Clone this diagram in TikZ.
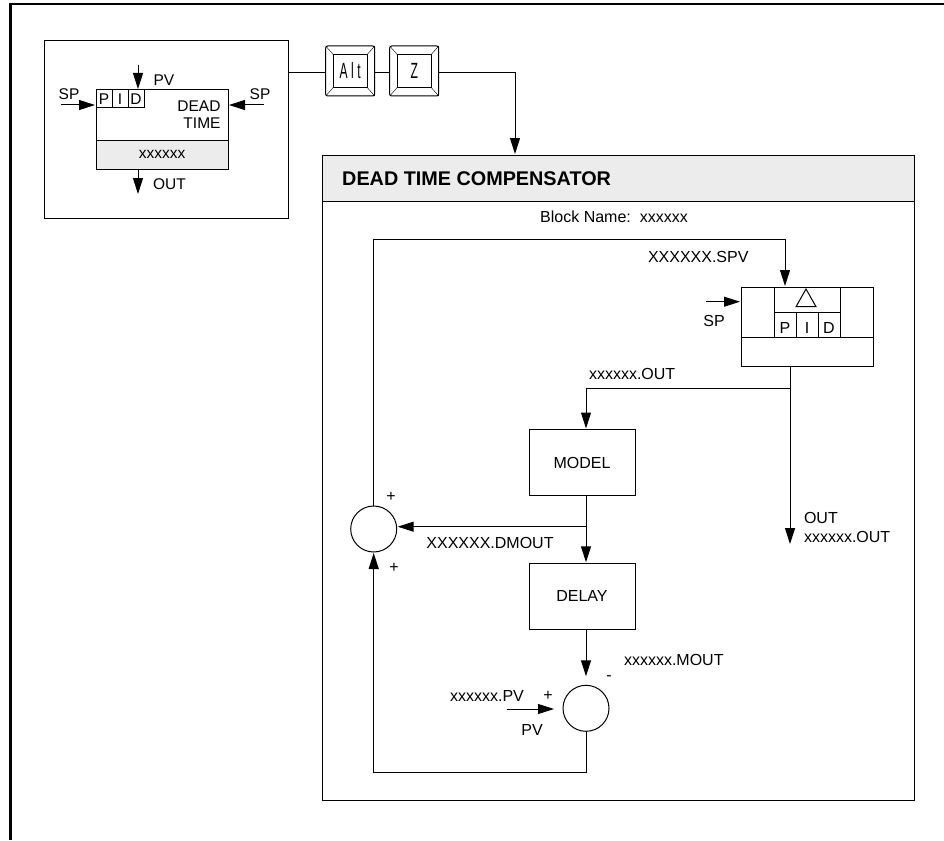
\documentclass[tikz,border=0pt]{standalone}
\usepackage{fontspec}
\setmainfont{Liberation Sans}
\newfontfamily\keyfont[FakeStretch=0.55,LetterSpace=16]{Liberation Sans}
\usetikzlibrary{arrows.meta,positioning}
\tikzset{
  block/.style={
    rectangle,
    draw=black,
    line width=1pt,
    outer sep=0pt,
    inner sep=0pt,
    align=center
  },
  cell/.style={
    block,
    minimum height=18pt
  },
  sumnode/.style={
    circle,
    draw=black,
    line width=1pt,
    outer sep=0pt,
    minimum size=46pt
  },
  keycap/.style={
    block,
    rounded corners=2pt,
    minimum width=49pt,
    minimum height=50pt
  },
  keyface/.style={
    block,
    minimum width=34pt,
    minimum height=33pt,
    font=\keyfont\fontsize{22}{22}\selectfont
  },
  txt/.style={
    inner sep=0pt,
    outer sep=0pt,
    align=left,
    font=\fontsize{16}{18}\selectfont
  },
  facetxt/.style={
    txt,
    font=\fontsize{15.5}{17}\selectfont
  },
  pidcell/.style={
    cell,
    txt,
    minimum width=22pt,
    minimum height=25pt,
    text height=17pt,
    text depth=0pt
  },
  arrow/.style={
    -{Triangle[length=16pt,width=10pt]},
    line width=1pt,
    shorten >=1pt
  },
  wire/.style={
    line width=1pt
  }
}
\begin{document}
\begin{tikzpicture}[x=1pt,y=-1pt]
\useasboundingbox (0,0) rectangle (944,840);
\draw[line width=2.5pt] (10.5,840) -- (10.5,4) -- (944,4);

% faceplate
\node[block, anchor=north west, minimum width=244pt, minimum height=177pt] (face) at (44,41) {};
\node[block, anchor=north west, minimum width=132pt, minimum height=50pt] (fpbody) at (96,90) {};
\node[block, minimum width=132pt, minimum height=29pt, fill=gray!15, below=0pt of fpbody, facetxt] (fpname) {xxxxxx};
\node[cell, anchor=north west, minimum width=16pt, facetxt] (fpp) at (96,90) {P};
\node[cell, minimum width=16pt, right=0pt of fpp, facetxt] (fpi) {I};
\node[cell, minimum width=16pt, right=0pt of fpi, facetxt] (fpd) {D};
\node[facetxt, align=right, anchor=east] (fpdead) at (220.5,114.5) {DEAD\\TIME};

\coordinate (fppvin) at (138,65);
\coordinate (fpspl) at (61,105);
\coordinate (fpspr) at (264,105);
\coordinate (fpout) at (138,195);
\node[facetxt, anchor=west] (fppv) at (153.5,80) {PV};
\node[facetxt] (fpspltxt) at (69,94) {SP};
\node[facetxt] (fpsprtxt) at (260,94) {SP};
\node[facetxt, anchor=west] (fpouttxt) at (153,184) {OUT};

\draw[arrow] (fppvin) -- (fppvin |- fpd.north);
\draw[arrow] (fpspl) -- (fpspl -| fpbody.west);
\draw[arrow] (fpspr) -- (fpspr -| fpbody.east);
\draw[arrow] (fpname.south -| fpout) -- (fpout);

% keys
\node[keycap] (altkey) at (350.2,71) {};
\node[keyface] (altface) at (altkey) {Alt};
\node[keycap, right=15pt of altkey] (zkey) {};
\node[keyface] (zface) at (zkey) {Z};
\foreach \keyname/\facename in {altkey/altface,zkey/zface} {
  \draw (\keyname.north west) -- (\facename.north west);
  \draw (\keyname.north east) -- (\facename.north east);
  \draw (\keyname.south west) -- (\facename.south west);
  \draw (\keyname.south east) -- (\facename.south east);
}

% compensator
\node[block, anchor=north west, minimum width=591.5pt, minimum height=645.7pt] (comp) at (322.5,155) {};
\node[block, anchor=north west, minimum width=591.5pt, minimum height=46.5pt, fill=gray!15] (comphead) at (322.5,155) {};
\node[anchor=west, inner sep=0pt, font=\bfseries\fontsize{19.8}{22}\selectfont] (comptitle) at (342,179) {DEAD TIME COMPENSATOR};
\node[txt] (blockname) at (614,216.5) {Block Name:\ \ xxxxxx};

\coordinate (keyrow) at (0,72.7);
\coordinate (compin) at (515,155);
\draw[wire] (face.east |- keyrow) -- (keyrow -| altkey.west);
\draw[wire] (keyrow -| altkey.east) -- (keyrow -| zkey.west);
\draw[arrow] (keyrow -| zkey.east) -| (compin);

% controller
\node[block, anchor=north west, minimum width=132pt, minimum height=50pt] (pidbody) at (741,287) {};
\node[block, minimum width=132pt, minimum height=29pt, below=0pt of pidbody] (pidname) {};
\node[block, anchor=north west, minimum width=66pt, minimum height=25pt] (pidtop) at (774,287) {};
\node[pidcell, anchor=north west] (pidp) at (774,312) {P};
\node[pidcell, right=0pt of pidp] (pidi) {I};
\node[pidcell, right=0pt of pidi] (pidd) {D};
\draw[line width=1pt] (796,306.7) -- (806,289) -- (816,306.7) -- cycle;

% loop
\node[block, anchor=north west, minimum width=106pt, minimum height=66pt, txt] (model) at (529,429.5) {MODEL};
\node[block, anchor=north west, minimum width=106pt, minimum height=66pt, txt] (delay) at (529,563.3) {DELAY};
\node[sumnode] (suma) at (373.7,529) {};
\node[sumnode] (sumb) at (586,708.3) {};

\coordinate (spvin) at (785,239);
\coordinate (spin) at (706,301.7);
\coordinate (outtap) at (790,388.7);
\coordinate (outend) at (790,545);
\coordinate (modeltap) at (586,388.7);
\coordinate (delaytap) at (586,526.7);
\coordinate (pvin) at (506.7,709);
\coordinate (pvend) at (555,709);
\coordinate (loopend) at (373.7,772.7);

\draw[arrow] (suma.north) |- (spvin) -- (spvin |- pidbody.north);
\draw[arrow] (spin) -- (spin -| pidbody.west);
\draw[arrow] (pidname.south -| outend) -- (outend);
\draw[arrow] (outtap) -- (modeltap) -- (modeltap |- model.north);
\draw[wire] (modeltap |- model.south) -- (delaytap);
\draw[arrow] (delaytap) -- (suma.east |- delaytap);
\draw[arrow] (delaytap) -- (delaytap |- delay.north);
\draw[arrow] (delaytap |- delay.south) -- ++(0,48);
\draw[arrow] (pvin) -- (pvend);
\draw[arrow] (sumb.south) |- (loopend) -- (suma.south);

% labels
\node[txt, anchor=west] (spvtxt) at (648,257) {XXXXXX.SPV};
\node[txt] (sptxt) at (714,321) {SP};
\node[txt, anchor=west] (outtxt) at (589,373.5) {xxxxxx.OUT};
\node[txt, anchor=west] (outlbl) at (804,518) {OUT};
\node[txt, anchor=west] (outtag) at (804,536.5) {xxxxxx.OUT};
\node[txt] (dmouttxt) at (490,543) {XXXXXX.DMOUT};
\node[txt, anchor=west] (mouttxt) at (624,660) {xxxxxx.MOUT};
\node[txt] (pvtxt) at (487,696) {xxxxxx.PV};
\node[txt] (pvname) at (532,730) {PV};
\node[txt] (plusa) at (391,497) {+};
\node[txt] (plusb) at (394,568) {+};
\node[txt] (plusc) at (548,696) {+};
\node[txt] (minusb) at (609,678) {-};

\end{tikzpicture}
\end{document}
